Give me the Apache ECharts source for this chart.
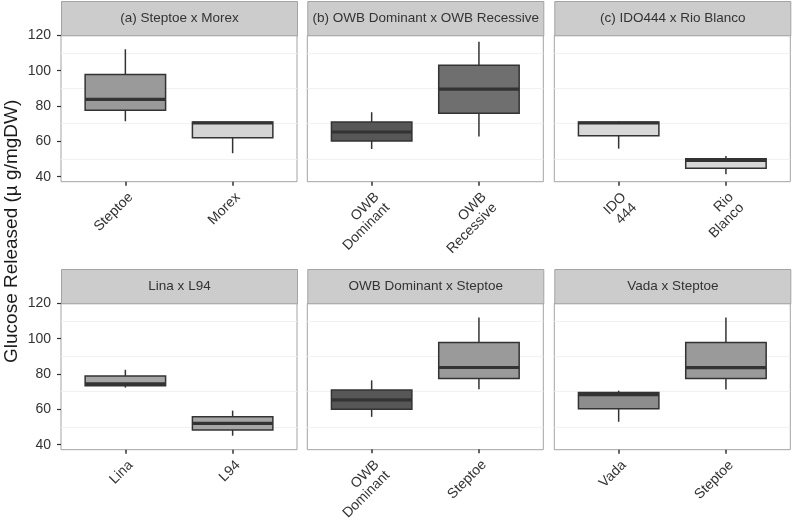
<!DOCTYPE html>
<html>
<head>
<meta charset="utf-8">
<script src="https://cdn.jsdelivr.net/npm/echarts@6/dist/echarts.min.js"></script>
<style>
html,body{margin:0;padding:0;background:#fff;}
#chart{width:792px;height:523px;}
</style>
</head>
<body>
<div id="chart"></div>
<script>
// ---- data ----
const panelTitles = [
  '(a) Steptoe x Morex',
  '(b) OWB Dominant x OWB Recessive',
  '(c) IDO444 x Rio Blanco',
  'Lina x L94',
  'OWB Dominant x Steptoe',
  'Vada x Steptoe'
];
const panelCategories = [
  ['Steptoe', 'Morex'],
  ['OWB\nDominant', 'OWB\nRecessive'],
  ['IDO\n444', 'Rio\nBlanco'],
  ['Lina', 'L94'],
  ['OWB\nDominant', 'Steptoe'],
  ['Vada', 'Steptoe']
];
// [lower whisker, Q1, median, Q3, upper whisker]
const statsA = [[71.4, 77.6, 83.8, 97.9, 112.1], [53.3, 62.1, 70.4, 71.0, 71.0]];
const statsB = [[55.7, 60.2, 65.3, 71.0, 76.5], [62.7, 75.9, 89.6, 103.0, 116.4]];
const statsC = [[55.9, 63.2, 70.4, 71.0, 71.3], [41.4, 44.8, 49.3, 50.2, 51.8]];
const statsD = [[72.3, 73.3, 74.4, 78.9, 82.4], [45.1, 48.4, 52.1, 55.9, 59.3]];
const statsE = [[55.6, 59.9, 65.2, 70.9, 76.3], [71.3, 77.4, 83.6, 97.8, 111.9]];
const statsF = [[53.0, 60.4, 68.3, 69.5, 70.6], [71.3, 77.4, 83.6, 97.8, 111.9]];
const panelStats = [statsA, statsB, statsC, statsD, statsE, statsF];
const panelFills = [
  ['#9a9a9a', '#d4d4d4'],
  ['#575757', '#6f6f6f'],
  ['#d8d8d8', '#d8d8d8'],
  ['#a6a6a6', '#a6a6a6'],
  ['#575757', '#9a9a9a'],
  ['#8d8d8d', '#9a9a9a']
];
const yTicks = [40, 60, 80, 100, 120];
const yTitle = 'Glucose Released (\u00b5 g/mgDW)';

// ---- layout ----
const FONT = '"Liberation Sans", Arial, sans-serif';
const colLeft = [61, 307.3, 554.3];
const rowTop = [35.3, 303.3];
const panelW = 236;
const panelH = 146.4;
const stripH = 34.3;
const yMin = 37.2, yMax = 120;
const pxPerUnit = panelH / (yMax - yMin);
const xExpand = 0.6; // discrete expansion (units)

const chart = echarts.init(document.getElementById('chart'), null, {renderer: 'canvas'});

const grids = [], xAxes = [], yAxes = [], series = [], graphics = [];

panelTitles.forEach((title, p) => {
  const col = p % 3, row = Math.floor(p / 3);
  const L = colLeft[col], T = rowTop[row];
  const nCat = panelCategories[p].length;
  const unitPx = panelW / (nCat - 1 + 2 * xExpand);
  const inset = (xExpand - 0.5) * unitPx;

  // frame grid
  const gFrame = grids.length;
  grids.push({left: L, top: T, width: panelW, height: panelH, show: true,
    backgroundColor: '#ffffff', borderColor: '#a3a3a3', borderWidth: 1, containLabel: false});
  xAxes.push({gridIndex: gFrame, type: 'value', show: false, min: 0, max: 1});
  yAxes.push({gridIndex: gFrame, type: 'value', show: false, min: yMin, max: yMax});

  // y grid (ticks, labels, grid lines)
  const gY = grids.length;
  const yH = (yMax - yTicks[0]) * pxPerUnit;
  grids.push({left: L, top: T, width: panelW, height: yH, show: false, containLabel: false});
  xAxes.push({gridIndex: gY, type: 'value', show: false, min: 0, max: 1});
  yAxes.push({gridIndex: gY, type: 'value', min: yTicks[0], max: yTicks[yTicks.length - 1], interval: 20,
    axisLine: {show: false},
    axisTick: {show: col === 0, length: 4, lineStyle: {color: '#333333', width: 1.2}},
    axisLabel: {show: col === 0, fontSize: 14, color: '#333333', fontFamily: FONT, margin: 10},
    splitLine: {show: false},
    minorTick: {show: false, splitNumber: 2},
    minorSplitLine: {show: true, lineStyle: {color: '#f1f1f1', width: 1}}
  });

  // data grid
  const gD = grids.length;
  grids.push({left: L + inset, top: T, width: panelW - 2 * inset, height: panelH, show: false, containLabel: false});
  xAxes.push({gridIndex: gD, type: 'category', data: panelCategories[p], boundaryGap: true,
    axisLine: {show: false},
    axisTick: {show: true, alignWithLabel: true, length: 4, lineStyle: {color: '#333333', width: 1.5}},
    axisLabel: {rotate: 45, fontSize: 14, color: '#333333', fontFamily: FONT, margin: 8,
      align: 'right', verticalAlign: 'top', lineHeight: 15, interval: 0}
  });
  yAxes.push({gridIndex: gD, type: 'value', show: false, min: yMin, max: yMax});

  const fills = panelFills[p];
  series.push({
    type: 'custom',
    xAxisIndex: gD, yAxisIndex: gD,
    data: panelStats[p].map((s, i) => [i].concat(s)),
    encode: {x: 0, y: [1, 2, 3, 4, 5]},
    renderItem: function (params, api) {
      const i = api.value(0);
      const pLo = api.coord([i, api.value(1)]);
      const pQ1 = api.coord([i, api.value(2)]);
      const pMed = api.coord([i, api.value(3)]);
      const pQ3 = api.coord([i, api.value(4)]);
      const pHi = api.coord([i, api.value(5)]);
      const band = api.size([1, 0])[0];
      const w = band * 0.75;
      const cx = pMed[0];
      const stroke = '#333333';
      return {
        type: 'group',
        children: [
          {type: 'line', shape: {x1: cx, y1: pLo[1], x2: cx, y2: pQ1[1]}, style: {stroke: stroke, lineWidth: 1.5}},
          {type: 'line', shape: {x1: cx, y1: pQ3[1], x2: cx, y2: pHi[1]}, style: {stroke: stroke, lineWidth: 1.5}},
          {type: 'rect', shape: {x: cx - w / 2, y: pQ3[1], width: w, height: pQ1[1] - pQ3[1]},
            style: {fill: fills[i], stroke: stroke, lineWidth: 1.5}},
          {type: 'line', shape: {x1: cx - w / 2, y1: pMed[1], x2: cx + w / 2, y2: pMed[1]},
            style: {stroke: stroke, lineWidth: 3.2}}
        ]
      };
    },
    silent: true
  });

  // strip
  graphics.push({
    type: 'group', left: L, top: T - stripH,
    children: [
      {type: 'rect', shape: {x: 0, y: 0, width: panelW, height: stripH},
        style: {fill: '#cccccc', stroke: '#a3a3a3', lineWidth: 1}},
      {type: 'text', x: panelW / 2, y: stripH / 2,
        style: {text: title, fill: '#333333', fontSize: 13.5, fontFamily: FONT, align: 'center', verticalAlign: 'middle'}}
    ]
  });
});

graphics.push({
  type: 'text', x: 12, y: (rowTop[0] - stripH + rowTop[1] + panelH) / 2 + 6, rotation: Math.PI / 2,
  style: {text: yTitle, fill: '#1a1a1a', fontSize: 19, fontFamily: FONT, align: 'center', verticalAlign: 'middle'}
});

chart.setOption({
  animation: false,
  backgroundColor: '#ffffff',
  grid: grids,
  xAxis: xAxes,
  yAxis: yAxes,
  series: series,
  graphic: graphics
});
</script>
</body>
</html>
